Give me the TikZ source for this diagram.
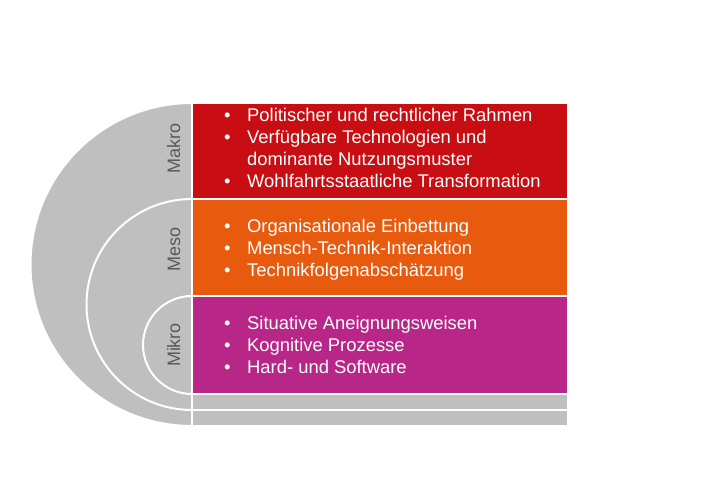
\documentclass[tikz,border=0pt]{standalone}
\usepackage{fontspec}
\setmainfont{Liberation Sans}

\definecolor{makrored}{RGB}{200,14,18}
\definecolor{mesoorange}{RGB}{232,90,14}
\definecolor{mikropink}{RGB}{184,38,136}
\definecolor{ringgray}{RGB}{191,191,191}
\definecolor{labelgray}{RGB}{89,89,89}

\newcommand{\bul}[1]{\makebox[23pt][l]{\textbullet}#1}
\newcommand{\cont}[1]{\hspace*{23pt}#1}

\begin{document}
\begin{tikzpicture}[x=1pt, y=1pt,
	ring/.style={draw=white, line width=2pt, fill=ringgray},
	band/.style={draw=white, line width=2pt, rectangle, minimum width=376pt, minimum height=#1, inner sep=0pt},
	items/.style={text=white, align=left, anchor=west, inner sep=0pt, font=\fontsize{18.4}{22}\selectfont},
	level/.style={text=labelgray, rotate=90, anchor=base, inner sep=0pt, font=\fontsize{18}{20}\selectfont}]
	\useasboundingbox (0,0) rectangle (705,486);

	% half discs, outer to inner
	\draw[ring] (192,383) arc[start angle=90, end angle=270, radius=161.5] -- cycle;
	\node (bar2) at (380,68) [band=16pt, fill=ringgray] {};
	\draw[ring] (192,287) arc[start angle=90, end angle=270, radius=105.5] -- cycle;
	\node (bar1) at (380,84) [band=16pt, fill=ringgray] {};
	\draw[ring] (192,190) arc[start angle=90, end angle=270, radius=49] -- cycle;

	\node (makro) at (180,337.3) [level] {Makro};
	\node (meso) at (180,236.8) [level] {Meso};
	\node (mikro) at (180,141) [level] {Mikro};

	% coloured bands
	\node (makrobox) at (380,335) [band=96pt, fill=makrored] {};
	\node (mesobox) at (380,238.5) [band=97pt, fill=mesoorange] {};
	\node (mikrobox) at (380,141) [band=98pt, fill=mikropink] {};

	% items
	\node (makroitems) at (224,338) [items] {%
		\bul{Politischer und rechtlicher Rahmen}\\
		\bul{Verfügbare Technologien und}\\
		\cont{dominante Nutzungsmuster}\\
		\bul{Wohlfahrtsstaatliche Transformation}};
	\node (mesoitems) at (224,236.5) [items] {%
		\bul{Organisationale Einbettung}\\
		\bul{Mensch-Technik-Interaktion}\\
		\bul{Technikfolgenabschätzung}};
	\node (mikroitems) at (224,141) [items] {%
		\bul{Situative Aneignungsweisen}\\
		\bul{Kognitive Prozesse}\\
		\bul{Hard- und Software}};
\end{tikzpicture}
\end{document}
